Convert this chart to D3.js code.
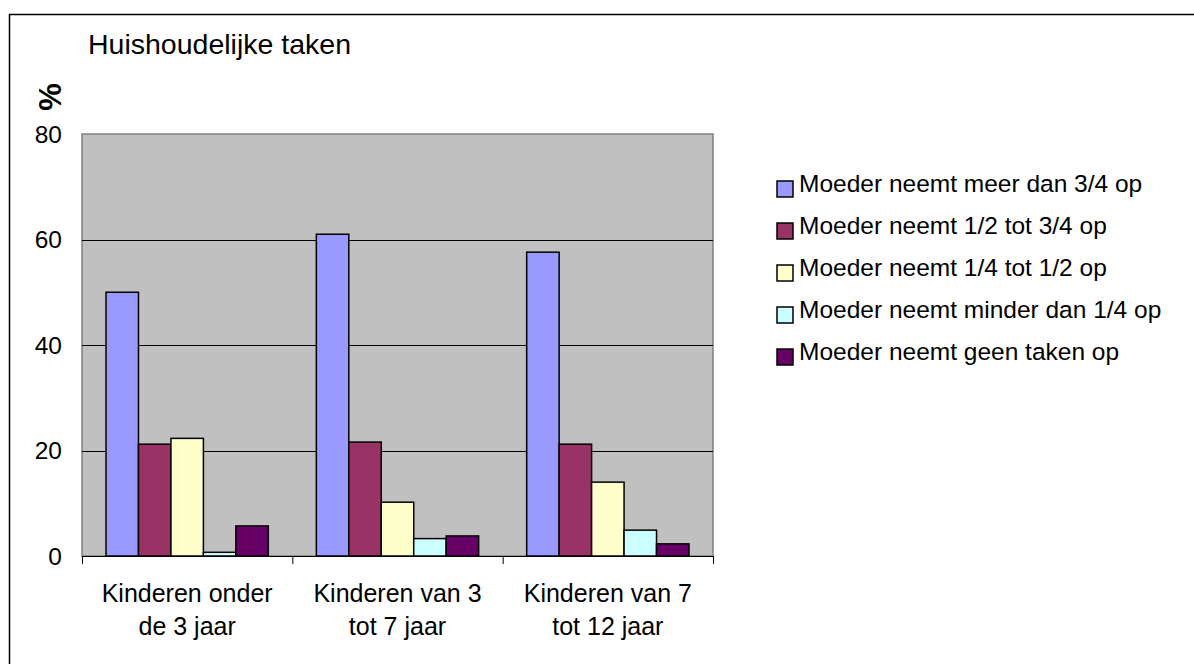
<!DOCTYPE html>
<html><head><meta charset="utf-8">
<script src="https://cdn.jsdelivr.net/npm/d3@7"></script>
<style>body{margin:0;background:#fff}svg{display:block;font-family:"Liberation Sans",Arial,sans-serif}</style>
</head><body>
<svg id="c" width="1194" height="664"></svg>
<script>
const categories = [["Kinderen onder","de 3 jaar"],["Kinderen van 3","tot 7 jaar"],["Kinderen van 7","tot 12 jaar"]];
const seriesNames = ["Moeder neemt meer dan 3/4 op","Moeder neemt 1/2 tot 3/4 op","Moeder neemt 1/4 tot 1/2 op","Moeder neemt minder dan 1/4 op","Moeder neemt geen taken op"];
const seriesColors = ["#9999FF","#993366","#FFFFCC","#CCFFFF","#660066"];
const s1 = [50.0, 61.0, 57.6];
const s2 = [21.2, 21.6, 21.2];
const s3 = [22.3, 10.2, 14.0];
const s4 = [0.7, 3.3, 4.9];
const s5 = [5.7, 3.8, 2.3];
const series = [s1,s2,s3,s4,s5];
const yTicks = [0,20,40,60,80];
const title = "Huishoudelijke taken";
const yLabel = "%";

const svg = d3.select("#c");
svg.append("rect").attr("x",9.5).attr("y",14.5).attr("width",1200).attr("height",700)
  .attr("fill","#fff").attr("stroke","#000").attr("stroke-width",1.5);

const L=82, R=713, T=134, B=556;
const x0 = d3.scaleBand().domain(d3.range(categories.length)).range([L,R]).padding(0);
const x1 = d3.scaleBand().domain(d3.range(series.length)).range([0,x0.bandwidth()]).paddingOuter(0.74).paddingInner(0);
const y = d3.scaleLinear().domain([0,80]).range([B,T]);

svg.append("rect").attr("x",L).attr("y",T).attr("width",R-L).attr("height",B-T)
  .attr("fill","#C0C0C0").attr("stroke","#808080").attr("stroke-width",1.5);

svg.append("g").selectAll("line").data(yTicks.filter(d=>d>0 && d<80)).join("line")
  .attr("x1",L).attr("x2",R).attr("y1",d=>Math.round(y(d))+0.5).attr("y2",d=>Math.round(y(d))+0.5)
  .attr("stroke","#000").attr("stroke-width",1);

svg.append("g").selectAll("text").data(yTicks).join("text")
  .attr("x",62).attr("y",d=>y(d)).attr("dy","0.36em").attr("text-anchor","end")
  .attr("font-size",24.5).attr("fill","#000").text(d=>d);

const g = svg.append("g");
series.forEach((vals,si)=>{
  g.selectAll(null).data(vals).join("rect")
    .attr("x",(d,ci)=>x0(ci)+x1(si))
    .attr("y",d=>y(d))
    .attr("width",x1.bandwidth())
    .attr("height",d=>B-y(d))
    .attr("fill",seriesColors[si]).attr("stroke","#000").attr("stroke-width",1.5);
});

// x axis
svg.append("line").attr("x1",L).attr("x2",R).attr("y1",B+0.5).attr("y2",B+0.5).attr("stroke","#000").attr("stroke-width",1);
const tickXs = d3.range(categories.length).map(i=>x0(i)).concat([R]);
svg.append("g").selectAll("line").data(tickXs).join("line")
  .attr("x1",d=>d+0.5).attr("x2",d=>d+0.5).attr("y1",B).attr("y2",B+8).attr("stroke","#000");

const xl = svg.append("g").selectAll("text").data(categories).join("text")
  .attr("text-anchor","middle").attr("font-size",25).attr("fill","#000");
xl.each(function(lines,i){
  const t=d3.select(this);
  lines.forEach((ln,j)=>t.append("tspan").attr("x",x0(i)+x0.bandwidth()/2).attr("y",602+j*33).text(ln));
});

svg.append("text").attr("x",88).attr("y",54).attr("font-size",28.5).attr("fill","#000").text(title);
svg.append("text").attr("transform","translate(50,97) rotate(-90)").attr("text-anchor","middle")
  .attr("dy","0.36em").attr("font-size",31).attr("font-weight","bold").attr("fill","#000").text(yLabel);

// legend
const lg = svg.append("g").selectAll("g").data(seriesNames).join("g")
  .attr("transform",(d,i)=>`translate(0,${192+i*42})`);
lg.append("rect").attr("x",777).attr("y",-11).attr("width",16).attr("height",16)
  .attr("fill",(d,i)=>seriesColors[i]).attr("stroke","#000").attr("stroke-width",1.5);
lg.append("text").attr("x",799).attr("y",0).attr("font-size",24.5).attr("fill","#000").text(d=>d);
</script>
</body></html>
